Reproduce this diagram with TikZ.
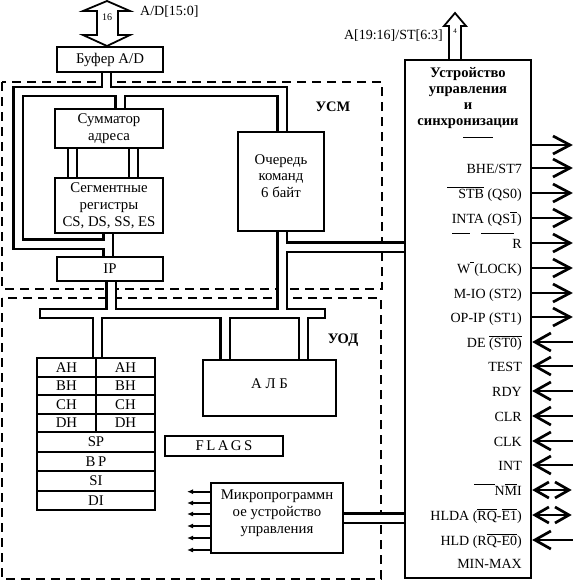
\documentclass[tikz,border=0pt]{standalone}
\usepackage{fontspec}
\setmainfont{Liberation Serif}
\usetikzlibrary{arrows.meta,calc,backgrounds}
\newcommand\olx[1]{\ensuremath{\overline{\mbox{\vphantom{T}#1}}}}
\newcommand\buses[2]{%
 \draw[#1] (buf.south -| xbuf) -- (xbuf |- TL);
 \draw[#1] (q.north -| TR) -- (TR) -- (TL) -- (BL) -- (BL -| xsi);
 \draw[#1] (TL -| xsum) -- (sum.north -| xsum);
 \draw[#1] (sum.south -| xs1) -- (seg.north -| xs1);
 \draw[#1] (sum.south -| xs2) -- (seg.north -| xs2);
 \draw[#1] (seg.south -| xsi) -- (ip.north -| xsi);
 \draw[#1] (ip.south -| xip) -- (xip |- LBL);
 \draw[#1] (q.south -| TR) -- (TR |- LBL);
 \draw[#1] (QJ) -- (QJ -| ctrl.west);
 \draw[#1,#2] (LBL) -- (LBR);
 \draw[#1] (LBL -| xreg) -- (ah1.north -| xreg);
 \draw[#1] (LBL -| xa1) -- (alu.north -| xa1);
 \draw[#1] (LBL -| xa2) -- (alu.north -| xa2);
 \draw[#1] (micro.east) -- (micro.east -| ctrl.west);
}
\begin{document}
\begin{tikzpicture}[x=1pt,y=-1pt,
  txt/.style={font=\fontsize{14}{16.5}\selectfont},
  btxt/.style={font=\fontsize{14.8}{16.8}\selectfont},
  box/.style={draw,line width=1.8pt,fill=white,inner sep=0pt,align=center,btxt},
  zone/.style={line width=2pt,dash pattern=on 9pt off 6pt},
  busblack/.style={line width=11.2pt,line join=miter},
  buswhite/.style={white,line width=7pt,line join=miter},
  sl/.style={txt,inner sep=0pt,anchor=base east},
  sig/.style={line width=1.8pt},
  chev/.style={line width=2.7pt,line join=miter},
  blockarrow/.style={draw,line width=1.8pt,fill=white,line join=miter},
  olin/.style={line width=0.8pt}
]
\useasboundingbox (0,0) rectangle (573,581);

% boxes
\node[box,minimum width=106pt,minimum height=25pt] (buf) at (110,59.5) {Буфер A/D};
\node[box,minimum width=108pt,minimum height=39pt] (sum) at (109,128.5) {Сумматор\\адреса};
\node[box,minimum width=108pt,minimum height=55pt] (seg) at (109,205.5) {Сегментные\\регистры\\CS, DS, SS, ES};
\node[box,minimum width=106pt,minimum height=24pt] (ip) at (110,269) {IP};
\node[box,minimum width=86pt,minimum height=99pt] (q) at (281,181.5) {};
\node[btxt,align=center,inner sep=0pt] (qt) at (281,176) {Очередь\\команд\\6 байт};
\node[box,minimum width=133pt,minimum height=56pt] (alu) at (269.5,388) {};
\node[btxt,inner sep=0pt] (alut) at (269.5,384) {А Л Б};
\node[box,minimum width=118pt,minimum height=20pt] (flags) at (224,446) {F\,L\,A\,G\,S};
\node[box,minimum width=132pt,minimum height=70pt] (micro) at (277,518) {};
\node[btxt,align=center,inner sep=0pt] (microt) at (277,513.5) {Микропрограммн\\ое устройство\\управления};
\node[box,minimum width=126pt,minimum height=518pt] (ctrl) at (468,319) {};

% registers
\node[box,minimum width=59pt,minimum height=19pt] (ah1) at (66.5,367.5) {AH};
\node[box,minimum width=59pt,minimum height=19pt] (ah2) at (125.5,367.5) {AH};
\node[box,minimum width=59pt,minimum height=18pt] (bh1) at (66.5,386) {BH};
\node[box,minimum width=59pt,minimum height=18pt] (bh2) at (125.5,386) {BH};
\node[box,minimum width=59pt,minimum height=19pt] (ch1) at (66.5,404.5) {CH};
\node[box,minimum width=59pt,minimum height=19pt] (ch2) at (125.5,404.5) {CH};
\node[box,minimum width=59pt,minimum height=18pt] (dh1) at (66.5,423) {DH};
\node[box,minimum width=59pt,minimum height=18pt] (dh2) at (125.5,423) {DH};
\node[box,minimum width=118pt,minimum height=20pt] (sp) at (96,442) {SP};
\node[box,minimum width=118pt,minimum height=19pt] (bp) at (96,461.5) {B\,P};
\node[box,minimum width=118pt,minimum height=20pt] (si) at (96,481) {SI};
\node[box,minimum width=118pt,minimum height=19pt] (di) at (96,500.5) {DI};

% bus coordinates
\coordinate (xbuf) at (106.5,0);
\coordinate (xsi) at (108,0);
\coordinate (xsum) at (120,0);
\coordinate (xs1) at (72.5,0);
\coordinate (xs2) at (133.5,0);
\coordinate (xip) at (111,0);
\coordinate (xreg) at (97.5,0);
\coordinate (xa1) at (225,0);
\coordinate (xa2) at (303.5,0);
\coordinate (TL) at (18,91.5);
\coordinate (TR) at (282,91.5);
\coordinate (BL) at (18,244);
\coordinate (QJ) at (282,247);
\coordinate (LBL) at (39,313.5);
\coordinate (LBR) at (326,313.5);

\begin{pgfonlayer}{background}
  \draw[zone] (2,82) rectangle (382,289);
  \draw[zone] (2,298) rectangle (381,579);
  \buses{busblack}{}
  \buses{buswhite}{shorten <=2.1pt,shorten >=2.1pt}
\end{pgfonlayer}

% zone labels
\node[font=\fontsize{14.5}{16}\selectfont\bfseries] (usm) at (333,107) {УСМ};
\node[font=\fontsize{14.5}{16}\selectfont\bfseries] (uod) at (343,340) {УОД};

% top block arrows
\draw[blockarrow] (107,1) -- (130,11) -- (118,11) -- (118,35) -- (130,35) -- (107,46)
  -- (83,35) -- (97,35) -- (97,11) -- (83,11) -- cycle;
\node[font=\fontsize{10}{12}\selectfont,inner sep=0pt] (n16) at (107,17) {16};
\node[txt,anchor=west,inner sep=0pt] (adl) at (140,12) {A/D[15:0]};

\draw[blockarrow] (455,13) -- (466,26) -- (461,26) -- (461,60) -- (449,60) -- (449,26) -- (444,26) -- cycle;
\node[font=\fontsize{7}{8}\selectfont,inner sep=0pt] (n4) at (455,31) {4};
\node[txt,anchor=east,inner sep=0pt] (al) at (443,36) {A[19:16]/ST[6:3]};

% control unit title
\node[align=center,inner sep=0pt,font=\fontsize{14.6}{16.3}\selectfont\bfseries] (title) at (468,98)
  {Устройство\\управления\\и\\синхронизации};
\draw[olin] (463,137) -- (493,137);

% output signals
\foreach \y/\n in {145/a,168/b,193/c,218/d,243/e,268/f,293/g,317/h}{
  \coordinate (s\n) at (570,\y);
  \draw[sig] (ctrl.east |- s\n) -- (s\n);
  \draw[chev] ($(s\n)+(-17,-9)$) -- (s\n) -- ($(s\n)+(-17,9)$);
}
% input signals
\foreach \y/\n in {342/i,366/j,391/k,416/l,441/m,465/n,540/q}{
  \coordinate (s\n) at (573,\y);
  \coordinate (e\n) at ($(ctrl.east |- s\n)+(3,0)$);
  \draw[sig] (e\n) -- (s\n);
  \draw[chev] ($(e\n)+(16,-9)$) -- (e\n) -- ($(e\n)+(16,9)$);
}
% bidirectional signals
\foreach \y/\n in {490/o,515/p}{
  \coordinate (s\n) at (569,\y);
  \coordinate (e\n) at ($(ctrl.east |- s\n)+(3,0)$);
  \draw[sig] (e\n) -- (s\n);
  \draw[chev] ($(e\n)+(14,-8)$) -- (e\n) -- ($(e\n)+(14,8)$);
  \draw[chev] ($(s\n)+(-14,-8)$) -- (s\n) -- ($(s\n)+(-14,8)$);
}

\node[sl] (lb) at (522,173) {BHE/ST7};
\node[sl] (lc) at (522,198) {\olx{\hspace{11pt}STB} (QS0)};
\node[sl] (ld) at (522,223) {INTA (QS\olx{1})};
\node[sl] (le) at (522,248) {R};
\draw[olin] (452,233) -- (470,233);
\draw[olin] (481,233) -- (514,233);
\node[sl] (lf) at (522,273) {W\olx{\hspace{4pt}}(LOCK)};
\node[sl] (lg) at (522,298) {M-IO (ST2)};
\node[sl] (lh) at (522,322) {OP-IP (ST1)};
\node[sl] (li) at (522,347) {DE \olx{(ST0)}};
\node[sl] (lj) at (522,371) {TEST};
\node[sl] (lk) at (522,396) {RDY};
\node[sl] (ll) at (522,421) {CLR};
\node[sl] (lm) at (522,446) {CLK};
\node[sl] (ln) at (522,470) {INT};
\node[sl] (lo) at (522,495) {\olx{\hphantom{NN}}N\olx{M}I};
\node[sl] (lp) at (522,520) {HLDA (\olx{RQ}-\olx{E1})};
\node[sl] (lq) at (522,545) {HLD (R\olx{Q-E0})};
\node[sl] (lr) at (522,568) {MIN-MAX};

% micro arrows
\foreach \y [count=\i] in {491.7,503,514,526,538,550}{
  \coordinate (m\i) at (187,\y);
  \draw[line width=1.6pt,-{Latex[length=6pt,width=5pt]}] (micro.west |- m\i) -- (m\i);
}
\end{tikzpicture}
\end{document}
